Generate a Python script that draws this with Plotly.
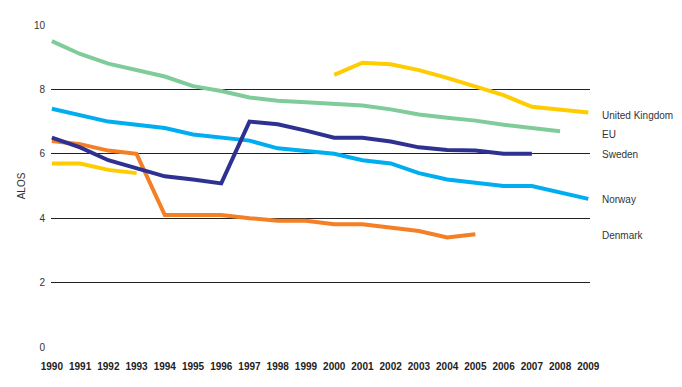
import plotly.graph_objects as go

years = list(range(1990, 2010))

eu = [9.5, 9.1, 8.8, 8.6, 8.4, 8.1, 7.95, 7.75, 7.65, 7.6, 7.55, 7.5, 7.38, 7.22, 7.12, 7.03, 6.9, 6.8, 6.7, None]
uk = [5.7, 5.7, 5.5, 5.4, None, None, None, None, None, None, 8.45, 8.83, 8.78, 8.6, 8.36, 8.1, 7.82, 7.46, 7.38, 7.28]
sweden = [6.5, 6.2, 5.8, 5.55, 5.3, 5.2, 5.08, 7.0, 6.92, 6.72, 6.5, 6.5, 6.38, 6.2, 6.12, 6.1, 6.0, 6.0, None, None]
norway = [7.4, 7.2, 7.0, 6.9, 6.8, 6.6, 6.51, 6.41, 6.17, 6.1, 6.0, 5.8, 5.7, 5.4, 5.2, 5.1, 5.0, 5.0, 4.8, 4.6]
denmark = [6.4, 6.3, 6.1, 6.0, 4.1, 4.1, 4.1, 4.0, 3.92, 3.92, 3.81, 3.81, 3.7, 3.6, 3.4, 3.5, None, None, None, None]

labels = ["United Kingdom", "EU", "Sweden", "Norway", "Denmark"]
label_y = [7.2, 6.61, 5.99, 4.57, 3.45]

series = [
    ("EU", eu, "#7fcc9a"),
    ("Norway", norway, "#00aeef"),
    ("United Kingdom", uk, "#ffcc00"),
    ("Denmark", denmark, "#f47f24"),
    ("Sweden", sweden, "#2e3192"),
]

font = "Liberation Sans, Arial, sans-serif"

fig = go.Figure()
for name, vals, col in series:
    fig.add_trace(go.Scatter(x=years, y=vals, mode="lines", name=name,
                             line=dict(color=col, width=4), connectgaps=False))

for lab, ly in zip(labels, label_y):
    fig.add_annotation(x=1.019, y=ly, xref="paper", yref="y", text=lab, showarrow=False,
                       xanchor="left", yanchor="middle",
                       font=dict(family=font, size=10, color="#333333"))

fig.update_layout(
    width=674, height=379,
    margin=dict(l=43, r=92, t=17, b=40),
    paper_bgcolor="white", plot_bgcolor="white",
    showlegend=False,
    xaxis=dict(range=[1989.97, 2009.06], tickmode="array", tickvals=years,
               ticktext=[str(y) for y in years], showgrid=False, zeroline=False,
               showline=False, ticks="", ticklabelstandoff=12, tickangle=0,
               automargin=False,
               tickfont=dict(family=font, size=10, color="#222222", weight="bold")),
    yaxis=dict(range=[0, 10], tickvals=[0, 2, 4, 6, 8, 10], showgrid=True,
               gridcolor="#222222", gridwidth=1, zeroline=False, showline=False,
               ticks="", ticklabelstandoff=5, automargin=False,
               tickfont=dict(family=font, size=10, color="#333333"),
               title=dict(text="ALOS", standoff=6,
                          font=dict(family=font, size=10, color="#333333"))),
)

fig.write_html("out.html")
